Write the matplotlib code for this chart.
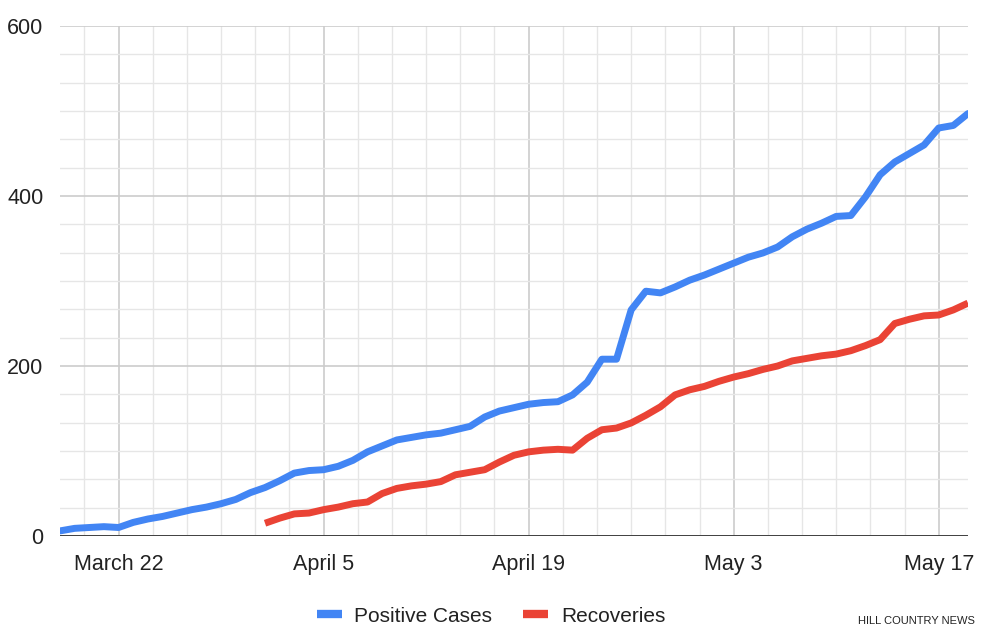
import numpy as np
import pandas as pd
import matplotlib
matplotlib.use("Agg")
import matplotlib.pyplot as plt
import matplotlib.dates as mdates

plt.rcParams['font.family'] = ['Liberation Sans', 'DejaVu Sans']

# Data (one value per day)
positive_dates = pd.date_range('2020-03-18', '2020-05-19')
positive_cases = [6, 9, 10, 11, 10, 16, 20, 23, 27, 31, 34, 38, 43, 51, 57, 65,
                  74, 77, 78, 82, 89, 99, 106, 113, 116, 119, 121, 125, 129, 140,
                  147, 151, 155, 157, 158, 166, 181, 208, 208, 266, 288, 286, 293,
                  301, 307, 314, 321, 328, 333, 340, 352, 361, 368, 376, 377, 399,
                  425, 440, 450, 460, 480, 483, 497]

recovery_dates = pd.date_range('2020-04-01', '2020-05-19')
recoveries = [15, 21, 26, 27, 31, 34, 38, 40, 50, 56, 59, 61, 64, 72, 75, 78, 87,
              95, 99, 101, 102, 101, 115, 125, 127, 133, 142, 152, 166, 172, 176,
              182, 187, 191, 196, 200, 206, 209, 212, 214, 218, 224, 231, 250, 255,
              259, 260, 266, 274]

tick_dates = pd.to_datetime(['2020-03-22', '2020-04-05', '2020-04-19', '2020-05-03', '2020-05-17'])
tick_labels = ['March 22', 'April 5', 'April 19', 'May 3', 'May 17']
y_ticks = [0, 200, 400, 600]

BLUE = '#4285F4'
RED = '#EA4335'

fig = plt.figure(figsize=(9.86, 6.28), dpi=100)
ax = fig.add_axes([60 / 986, 92 / 628, 908 / 986, 510 / 628])

x_pos = mdates.date2num(positive_dates)
x_rec = mdates.date2num(recovery_dates)
x_ticks = mdates.date2num(tick_dates)

ax.plot(x_pos, positive_cases, color=BLUE, lw=5, solid_joinstyle='round',
        solid_capstyle='round', label='Positive Cases', zorder=3)
ax.plot(x_rec, recoveries, color=RED, lw=5, solid_joinstyle='round',
        solid_capstyle='butt', label='Recoveries', zorder=3)

ax.set_xlim(x_pos[0], x_pos[-1])
ax.set_ylim(0, 600)

# major / minor grid
ax.set_xticks(x_ticks)
ax.set_xticklabels(tick_labels)
ax.set_xticks(np.arange(x_ticks[0] - 14 / 6, x_pos[-1], 14 / 6), minor=True)
ax.set_yticks(y_ticks)
ax.set_yticks(np.arange(0, 600, 200 / 6), minor=True)
ax.grid(which='major', color='#cccccc', lw=1.2, zorder=0)
ax.grid(which='minor', color='#e6e6e6', lw=1.0, zorder=0)
ax.axhline(0, color='#333333', lw=2, zorder=2)

for s in ax.spines.values():
    s.set_visible(False)
ax.tick_params(which='both', length=0)
ax.tick_params(axis='x', pad=13, labelsize=15.5, colors='#222222')
ax.tick_params(axis='y', pad=12, labelsize=15.5, colors='#222222')

leg = fig.legend(loc='center', bbox_to_anchor=(491 / 986, 1 - 616 / 628), ncol=2,
                 frameon=False, fontsize=15, handlelength=1.2, handletextpad=0.6,
                 columnspacing=1.5)
for h in leg.get_lines():
    h.set_linewidth(6)
    h.set_solid_capstyle('butt')
for t in leg.get_texts():
    t.set_color('#222222')

fig.text(975 / 986, 1 - 621 / 628, 'HILL COUNTRY NEWS', ha='right', va='center',
         fontsize=8, color='#222222')

fig.savefig('out.png', dpi=100)
